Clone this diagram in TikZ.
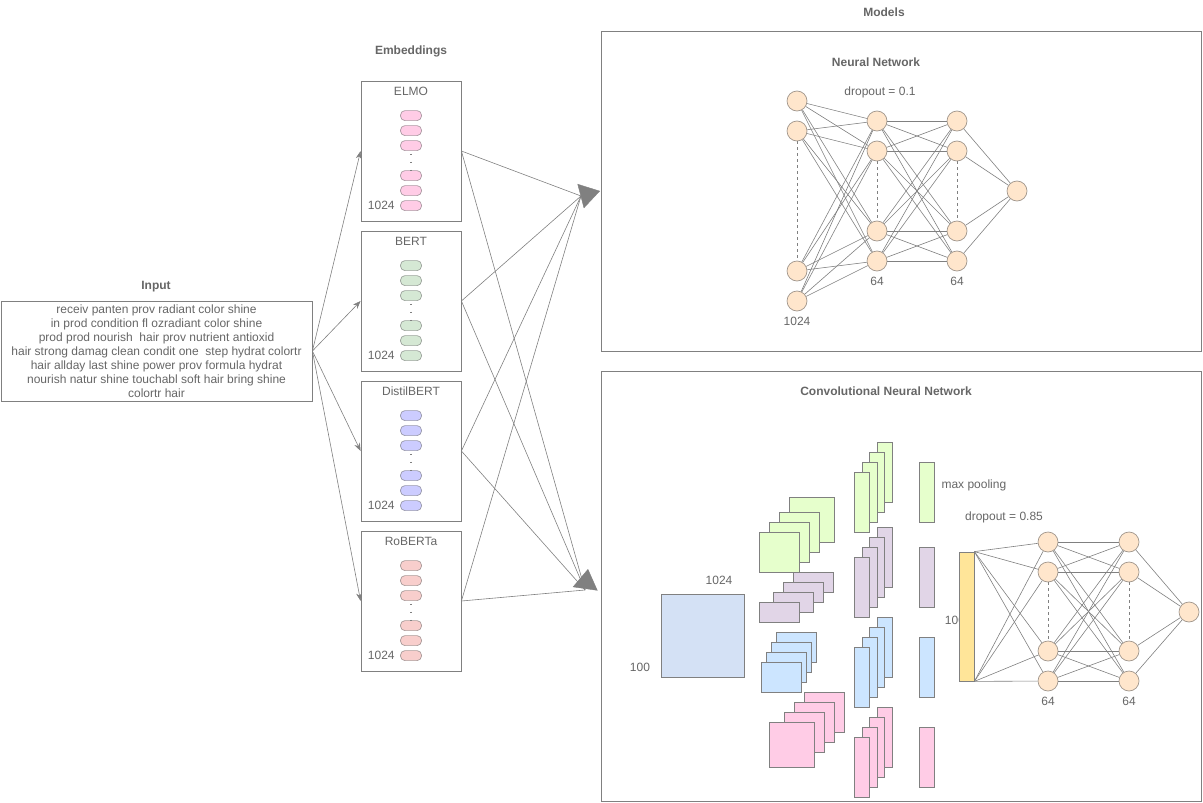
\documentclass[tikz,border=0pt]{standalone}
\usepackage{fontspec}
\setmainfont{Liberation Sans}
\usetikzlibrary{arrows.meta, positioning}
\definecolor{txtgray}{HTML}{666666}
\definecolor{linegray}{HTML}{808080}
\definecolor{nnfill}{HTML}{FFE6CC}
\definecolor{nndraw}{HTML}{A0968C}
\definecolor{elmofill}{HTML}{FFCCE6}
\definecolor{bertfill}{HTML}{D5E8D4}
\definecolor{distilfill}{HTML}{CCCCFF}
\definecolor{robertafill}{HTML}{F8CECC}
\definecolor{inblue}{HTML}{D4E1F5}
\definecolor{mapgreen}{HTML}{E6FFCC}
\definecolor{mappurple}{HTML}{E1D5E7}
\definecolor{mapblue}{HTML}{CCE5FF}
\definecolor{mappink}{HTML}{FFCCE6}
\definecolor{baryellow}{HTML}{FFE599}

\begin{document}
\begin{tikzpicture}[x=1pt, y=-1pt,
  every node/.style={text=txtgray, font=\fontsize{12}{14}\selectfont},
  heading/.style={font=\fontsize{12}{14}\selectfont\bfseries},
  frame/.style={draw=linegray, line width=0.8pt},
  pill/.style={draw=#1!35!gray, fill=#1, rounded corners=4.5pt, minimum width=21pt, minimum height=10pt, inner sep=0pt, line width=0.7pt},
  neuron/.style={circle, draw=nndraw, fill=nnfill, minimum size=20pt, inner sep=0pt, line width=0.7pt},
  link/.style={draw=linegray, line width=0.6pt},
  feed/.style={draw=linegray, line width=0.6pt, -{Stealth[length=8pt, width=6pt]}},
  bighead/.style={draw=linegray, -{Triangle[length=20pt, width=25pt]}},
  skip/.style={draw=linegray, dashed, line width=0.6pt},
  dotgap/.style={draw=linegray, line width=1.3pt, dash pattern=on 1pt off 7pt, shorten <=3pt},
  fmap/.style={draw=linegray, line width=0.8pt}]
\useasboundingbox (0,0) rectangle (1203,803);

\coordinate (nnjoin) at (581,196);
\coordinate (nntip) at (600,191);
\coordinate (cnnjoin) at (585,590);
\coordinate (cnntip) at (588,569);

\node[heading] (intitle) at (156,287) {Input};
\node[frame, minimum width=311pt, minimum height=100pt, align=center, inner sep=0pt] (input) at (156.5,351)
{receiv panten prov radiant color shine\\
in prod condition fl ozradiant color shine\\
prod prod nourish~ hair prov nutrient antioxid\\
hair strong damag clean condit one~ step hydrat colortr\\
hair allday last shine power prov formula hydrat\\
nourish natur shine touchabl soft hair bring shine\\
colortr hair};

\node[heading] (embtitle) at (411,51) {Embeddings};
\foreach \name/\lbl/\yc/\col in {elmo/ELMO/151/elmofill, bert/BERT/301/bertfill,
    distil/DistilBERT/451/distilfill, roberta/RoBERTa/601/robertafill} {
  \node[frame, minimum width=100pt, minimum height=140pt] (\name) at (411,\yc) {};
  \node at ([yshift=-11pt]\name.north) {\lbl};
  \foreach \k/\dy in {1/35,2/50,3/65,4/95,5/110,6/125}
    \node[pill=\col] (\name-p\k) at ([yshift=-\dy pt]\name.north) {};
  \draw[dotgap] (\name-p3) -- (\name-p4);
  \node[left=2pt of \name-p6] {1024};
  \draw[feed] (input.east) -- (\name.west);
  \draw[link] (\name.east) -- (nnjoin);
  \draw[link] (\name.east) -- (cnnjoin);
}
\draw[bighead] (nnjoin) -- (nntip);
\draw[bighead] (cnnjoin) -- (cnntip);

\node[heading] (models) at (884,12) {Models};
\node[frame, minimum width=600pt, minimum height=320pt] (nnbox) at (901,191) {};
\node[heading] at (876,62) {Neural Network};
\node at (880,92) {dropout = 0.1};

\foreach \i/\y in {1/101,2/131,3/271,4/301}
  \node[neuron] (a\i) at (797,\y) {};
\foreach \i/\y in {1/121,2/151,3/231,4/261} {
  \node[neuron] (b\i) at (877,\y) {};
  \node[neuron] (c\i) at (957,\y) {};
}
\node[neuron] (nnout) at (1017,191) {};
\foreach \i in {1,...,4} {
  \foreach \j in {1,...,4} {
    \draw[link] (a\i) -- (b\j);
    \draw[link] (b\i) -- (c\j);
  }
  \draw[link] (c\i) -- (nnout);
}
\draw[skip] (a2) -- (a3);
\draw[skip] (b2) -- (b3);
\draw[skip] (c2) -- (c3);
\node[below=2pt of a4] {1024};
\node[below=2pt of b4] {64};
\node[below=2pt of c4] {64};

\node[frame, minimum width=600pt, minimum height=430pt] (cnnbox) at (901,586) {};
\node[heading] at (886,391) {Convolutional Neural Network};

\node[fmap, fill=inblue, minimum width=83pt, minimum height=83pt] (emb) at (702.5,635.5) {};
\node at (719,580) {1024};
\node at (640,667) {100};

\foreach \xa/\ya/\xb/\yb/\col in {
    789/497/834/542/mapgreen, 779/512/819/552/mapgreen, 769/522/809/562/mapgreen, 759/532/799/572/mapgreen,
    793/572/833/592/mappurple, 783/582/823/602/mappurple, 773/592/813/612/mappurple, 759/602/799/622/mappurple,
    776/632/816/662/mapblue, 771/642/811/672/mapblue, 766/652/806/682/mapblue, 761/662/801/692/mapblue,
    804/692/844/732/mappink, 794/702/834/742/mappink, 784/712/824/752/mappink, 769/722/814/767/mappink}
  \draw[fmap, fill=\col] (\xa,\ya) rectangle (\xb,\yb);

\foreach \yb/\col in {442/mapgreen, 527/mappurple, 617/mapblue, 707/mappink}
  \foreach \k in {0,...,3}
    \draw[fmap, fill=\col] (877-7.5*\k,\yb+10*\k) rectangle (892-7.5*\k,\yb+60+10*\k);

\foreach \yb/\col in {462/mapgreen, 547/mappurple, 637/mapblue, 727/mappink}
  \draw[fmap, fill=\col] (919,\yb) rectangle (934,\yb+60);
\node[anchor=west] at (938,485) {max pooling};
\node at (1004,517) {dropout = 0.85};

\node at (955,620) {100};
\node[frame, fill=baryellow, minimum width=15pt, minimum height=129pt, inner sep=0pt] (flat) at (966.5,616.5) {};

\foreach \i/\y in {1/542,2/572,3/651,4/681} {
  \node[neuron] (d\i) at (1048,\y) {};
  \node[neuron] (e\i) at (1129,\y) {};
}
\node[neuron] (cnnout) at (1189,612) {};
\foreach \i in {1,...,4} {
  \draw[link] (flat.north east) -- (d\i);
  \draw[link] (flat.south east) -- (d\i);
  \foreach \j in {1,...,4}
    \draw[link] (d\i) -- (e\j);
  \draw[link] (e\i) -- (cnnout);
}
\draw[skip] (d2) -- (d3);
\draw[skip] (e2) -- (e3);
\node[below=2pt of d4] {64};
\node[below=2pt of e4] {64};
\end{tikzpicture}
\end{document}
